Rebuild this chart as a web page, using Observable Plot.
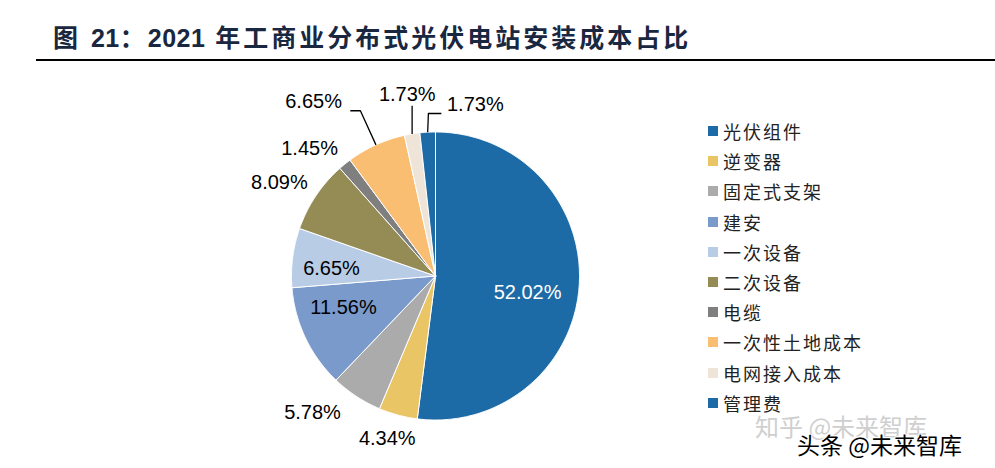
<!DOCTYPE html>
<html><head><meta charset="utf-8">
<script src="https://cdn.jsdelivr.net/npm/d3@7"></script>
<script src="https://cdn.jsdelivr.net/npm/@observablehq/plot@0.6"></script>
<style>
body{margin:0;background:#fff;}
#wrap{position:relative;width:995px;height:468px;overflow:hidden;}
#title{position:absolute;left:53px;top:23px;font-weight:bold;font-size:25px;font-family:"Liberation Sans","Noto Sans CJK SC",sans-serif;color:#1a2740;letter-spacing:3px;white-space:nowrap;line-height:30px;}
#title .num{letter-spacing:0.5px;}
#rule{position:absolute;left:36px;right:0;top:59px;height:2px;background:#000;}
#chart{position:absolute;left:0;top:0;}
#legend{position:absolute;left:708px;top:116px;font-family:"Noto Sans CJK SC",sans-serif;font-size:18px;color:#222;letter-spacing:2px;}
.row{display:flex;align-items:center;height:30.2px;}
.row .tx{line-height:18px;}
.sw{width:10px;height:10px;margin-right:5px;flex:none;}
#wm1{position:absolute;left:755px;top:417px;font-family:"Noto Sans CJK SC",sans-serif;font-size:24px;line-height:18px;color:#cfcfcf;white-space:nowrap;}
#wm2{position:absolute;left:797px;top:434px;font-family:"Noto Sans CJK SC",sans-serif;font-size:23px;line-height:20px;color:#000;white-space:nowrap;text-shadow:1px 1px 0 #fff,-1px -1px 0 #fff,1px -1px 0 #fff,-1px 1px 0 #fff;}
</style></head>
<body>
<div id="wrap">
  <div id="title">图 <span class="num">21</span>：<span class="num">2021</span> 年工商业分布式光伏电站安装成本占比</div>
  <div id="rule"></div>
  <div id="chart"></div>
  <div id="legend"></div>
  <div id="wm1">知乎 @未来智库</div>
  <div id="wm2">头条 @未来智库</div>
</div>
<script>
const names = ["光伏组件","逆变器","固定式支架","建安","一次设备","二次设备","电缆","一次性土地成本","电网接入成本","管理费"];
const values = [52.02, 4.34, 5.78, 11.56, 6.65, 8.09, 1.45, 6.65, 1.73, 1.73];
const colors = ["#1D6BA6","#E9C566","#ABABAB","#7A9ACB","#B8CCE6","#958B55","#7F7F7F","#F9BE72","#EEE5D8","#1D6BA6"];

// layout of labels (angle offset in degrees, radius factor) and leader shapes
const labelLayout = [
  {da: 6.6, r: 0.65, inside: true, white: true},
  {da: 1.4, r: 1.18},
  {da: 8.7, r: 1.276},
  {da: 6.6, r: 0.675, inside: true},
  {da: -3.2, r: 0.724, inside: true},
  {da: -2.95, r: 1.263},
  {da: -5.7, r: 1.243},
  {da: -10.5, r: 1.479, leader: [[0,0],[-0.108,0.237],[-0.178,0.237]]},
  {da: 0.5, r: 1.275, leader: [[0,0],[0,0.195]]},
  {da: 16.2, r: 1.222, leader: [[0,0],[0.005,0.13],[0.095,0.13]]}
];

const arcs = d3.pie().sort(null).value(d => d)(values);
const slicePts = [];
arcs.forEach((a, i) => {
  const n = Math.max(2, Math.ceil((a.endAngle - a.startAngle) / 0.008));
  slicePts.push({name: names[i], x: 0, y: 0});
  for (let k = 0; k <= n; k++) {
    const t = a.startAngle + (a.endAngle - a.startAngle) * k / n;
    slicePts.push({name: names[i], x: Math.sin(t), y: Math.cos(t)});
  }
  slicePts.push({name: names[i], x: 0, y: 0});
});

const labelData = arcs.map((a, i) => {
  const L = labelLayout[i];
  const m = (a.startAngle + a.endAngle) / 2 + L.da * Math.PI / 180;
  return {text: values[i].toFixed(2) + "%", x: L.r * Math.sin(m), y: L.r * Math.cos(m), white: !!L.white};
});

const leaderPts = [];
arcs.forEach((a, i) => {
  const L = labelLayout[i];
  if (!L.leader) return;
  const m = (a.startAngle + a.endAngle) / 2;
  const ex = Math.sin(m), ey = Math.cos(m);
  L.leader.forEach(([dx, dy]) => leaderPts.push({id: i, x: ex + dx, y: ey + dy}));
});

const chart = Plot.plot({
  width: 995, height: 468, margin: 0,
  x: {domain: [-1, 1], range: [291, 579], axis: null},
  y: {domain: [-1, 1], range: [419.5, 131.5], axis: null},
  color: {domain: names, range: colors},
  style: {background: "transparent", overflow: "visible"},
  marks: [
    Plot.line(slicePts, {x: "x", y: "y", z: "name", fill: "name", stroke: "white", strokeWidth: 1, curve: "linear", strokeLinejoin: "miter"}),
    Plot.line(leaderPts, {x: "x", y: "y", z: "id", stroke: "#000", strokeWidth: 1.3, curve: "linear", strokeLinecap: "butt"}),
    Plot.text(labelData.filter(d => !d.white), {x: "x", y: "y", text: "text", fill: "#000", fontSize: 20, fontFamily: "Liberation Sans, Arial, sans-serif"}),
    Plot.text(labelData.filter(d => d.white), {x: "x", y: "y", text: "text", fill: "#fff", fontSize: 20, fontFamily: "Liberation Sans, Arial, sans-serif"})
  ]
});
document.getElementById("chart").appendChild(chart);

const legend = document.getElementById("legend");
names.forEach((n, i) => {
  const row = document.createElement("div");
  row.className = "row";
  const sw = document.createElement("span");
  sw.className = "sw";
  sw.style.background = colors[i];
  const tx = document.createElement("span");
  tx.className = "tx";
  tx.textContent = n;
  row.appendChild(sw); row.appendChild(tx);
  legend.appendChild(row);
});
</script>
</body></html>
